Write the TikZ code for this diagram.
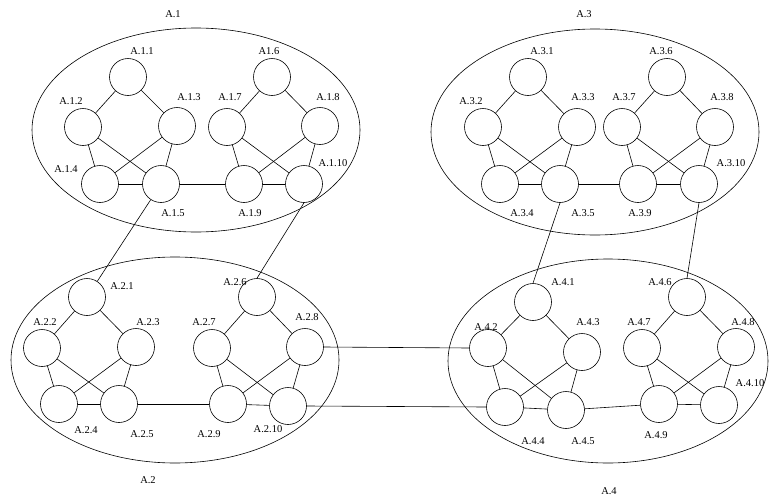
\documentclass[tikz,border=0pt]{standalone}
\usepackage{fontspec}
\setmainfont{Liberation Serif}
\usetikzlibrary{shapes.geometric}
\begin{document}
\begin{tikzpicture}[x=1pt,y=-1pt,line width=0.6pt,
  vtx/.style={circle,draw,minimum size=37pt,inner sep=0pt},
  grp/.style={ellipse,draw,inner sep=0pt},
  lbl/.style={font=\fontsize{10.5}{13}\selectfont,inner sep=0pt}]
\useasboundingbox (0,0) rectangle (769,498);
% group ellipses
\node[grp,minimum width=328pt,minimum height=204pt] (g1) at (196,130) {};
\node[grp,minimum width=328pt,minimum height=206pt] (g3) at (595,132) {};
\node[grp,minimum width=328pt,minimum height=206pt] (g2) at (175,360) {};
\node[grp,minimum width=320pt,minimum height=204pt] (g4) at (608,361) {};
% group labels
\node[lbl] (l1) at (173,14) {A.1};
\node[lbl] (l3) at (584,14) {A.3};
\node[lbl] (l2) at (148,480) {A.2};
\node[lbl] (l4) at (609,491) {A.4};
% vertices
\foreach \c/\i/\x/\y in {
 1/1/128/77, 1/2/83/127, 1/3/177/126, 1/4/100/184, 1/5/161/184,
 1/6/272/77, 1/7/227/127, 1/8/320/126, 1/9/244/184, 1/10/304/184,
 3/1/528/77, 3/2/483/127, 3/3/577/127, 3/4/500/184, 3/5/560/184,
 3/6/667/77, 3/7/622/127, 3/8/715/127, 3/9/638/184, 3/10/699/184,
 2/1/87/297, 2/2/42/348, 2/3/136/347, 2/4/59/404, 2/5/119/404,
 2/6/257/297, 2/7/212/348, 2/8/305/347, 2/9/228/404, 2/10/288/406,
 4/1/533/302, 4/2/488/348, 4/3/582/352, 4/4/505/407, 4/5/566/410,
 4/6/687/297, 4/7/642/348, 4/8/736/347, 4/9/659/404, 4/10/719/405}
 \node[vtx] (n\c-\i) at (\x,\y) {};
% vertex labels
\foreach \t/\x/\y in {
 A.1.1/142/51, A.1.2/71/101, A.1.3/189/97, A.1.4/66/169, A.1.5/173/213,
 A1.6/269/51, A.1.7/230/97, A.1.8/328/97, A.1.9/250/213, A.1.10/333/163,
 A.3.1/542/51, A.3.2/471/101, A.3.3/583/97, A.3.4/522/213, A.3.5/583/213,
 A.3.6/661/51, A.3.7/624/97, A.3.8/722/97, A.3.9/640/213, A.3.10/731/163,
 A.2.1/122/286, A.2.2/45/322, A.2.3/148/322, A.2.4/86/430, A.2.5/142/434,
 A.2.6/235/282, A.2.7/204/322, A.2.8/307/317, A.2.9/209/434, A.2.10/268/429,
 A.4.1/563/282, A.4.2/486/327, A.4.3/588/322, A.4.4/533/441, A.4.5/583/441,
 A.4.6/660/282, A.4.7/639/322, A.4.8/743/322, A.4.9/656/435, A.4.10/750/383}
 \node[lbl] (t\t) at (\x,\y) {\t};
% edges inside each group
\foreach \c in {1,2,3,4}
 \foreach \a/\b in {1/2,1/3,2/4,2/5,3/4,3/5,4/5,6/7,6/8,7/9,7/10,8/9,8/10,9/10,5/9}
  \draw (n\c-\a) -- (n\c-\b);
% edges between groups
\draw (n1-5) -- (n2-1);
\draw (n1-10.south) -- (n2-6.north);
\draw (n3-5.south) -- (n4-1.north);
\draw (n3-10.south) -- (n4-6.north);
\draw (n2-8.east) -- (n4-2.west);
\draw (n2-10.east) -- (n4-4.west);
\end{tikzpicture}
\end{document}
